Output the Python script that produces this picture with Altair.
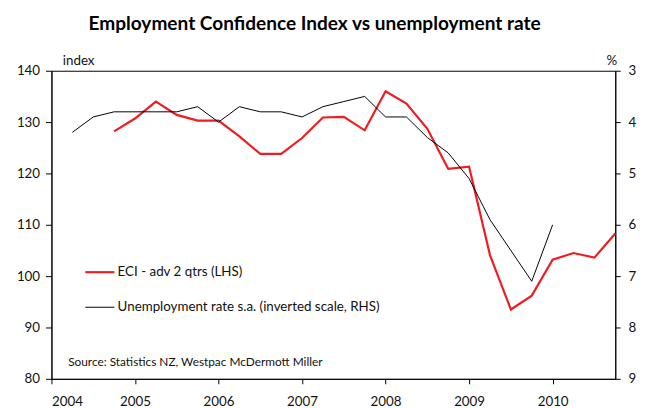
import altair as alt
import pandas as pd

TITLE = "Employment Confidence Index vs unemployment rate"
ECI_NAME = "ECI - adv 2 qtrs (LHS)"
UNEMP_NAME = "Unemployment rate s.a. (inverted scale, RHS)"
SOURCE = "Source:  Statistics NZ, Westpac McDermott Miller"

eci_x = [2004.75, 2005.0, 2005.25, 2005.5, 2005.75, 2006.0, 2006.25, 2006.5,
         2006.75, 2007.0, 2007.25, 2007.5, 2007.75, 2008.0, 2008.25, 2008.5,
         2008.75, 2009.0, 2009.25, 2009.5, 2009.75, 2010.0, 2010.25, 2010.5,
         2010.75]
eci_values = [128.2, 130.7, 134.0, 131.4, 130.3, 130.3, 127.2, 123.8,
              123.8, 126.9, 130.9, 131.0, 128.4, 136.0, 133.6, 128.7,
              120.9, 121.3, 104.1, 93.5, 96.2, 103.2, 104.5, 103.6,
              108.3]

unemp_x = [2004.25, 2004.5, 2004.75, 2005.0, 2005.25, 2005.5, 2005.75, 2006.0,
           2006.25, 2006.5, 2006.75, 2007.0, 2007.25, 2007.5, 2007.75, 2008.0,
           2008.25, 2008.5, 2008.75, 2009.0, 2009.25, 2009.5, 2009.75, 2010.0]
unemp_values = [4.2, 3.9, 3.8, 3.8, 3.8, 3.8, 3.7, 4.0,
                3.7, 3.8, 3.8, 3.9, 3.7, 3.6, 3.5, 3.9,
                3.9, 4.3, 4.6, 5.1, 5.9, 6.5, 7.1, 6.0]

year_ticks = [2004, 2005, 2006, 2007, 2008, 2009, 2010]
left_ticks = [80, 90, 100, 110, 120, 130, 140]
right_ticks = [3, 4, 5, 6, 7, 8, 9]

FONT = "Lato"

eci_df = pd.DataFrame({"x": eci_x, "value": eci_values, "series": ECI_NAME})
unemp_df = pd.DataFrame({"x": unemp_x, "value": unemp_values, "series": UNEMP_NAME})
source_df = pd.DataFrame({"x": [2004.2], "value": [83.2], "label": [SOURCE]})

x_enc = alt.X(
    "x:Q",
    scale=alt.Scale(domain=[2004, 2010.75], nice=False, zero=False),
    axis=alt.Axis(values=year_ticks, format="d", title=None, grid=False,
                  tickSize=5, labelPadding=11, labelFontSize=13.5),
)

left_scale = alt.Scale(domain=[80, 140], nice=False, zero=False)
left_axis = alt.Axis(values=left_ticks, title="index", titleAngle=0,
                     titleAlign="left", titleBaseline="middle", titleX=11, titleY=-10,
                     titleFontWeight="normal", titleFontSize=13.5, grid=False,
                     tickSize=6, labelPadding=6, labelFontSize=13.5)

series_scale = alt.Scale(domain=[ECI_NAME, UNEMP_NAME], range=["#ee1d23", "#000000"])
width_scale = alt.Scale(domain=[ECI_NAME, UNEMP_NAME], range=[2.2, 1.0])
legend = alt.Legend(title=None, orient="none", legendX=33, legendY=188,
                    symbolType="stroke", symbolSize=870, labelFontSize=13.5,
                    labelOffset=2, rowPadding=13, padding=0, labelLimit=400)

red = alt.Chart(eci_df).mark_line().encode(
    x=x_enc,
    y=alt.Y("value:Q", scale=left_scale, axis=left_axis),
    color=alt.Color("series:N", scale=series_scale, legend=legend),
    strokeWidth=alt.StrokeWidth("series:N", scale=width_scale, legend=legend),
)

source = alt.Chart(source_df).mark_text(
    align="left", baseline="middle", fontSize=12, font=FONT, color="#111111"
).encode(
    x=x_enc,
    y=alt.Y("value:Q", scale=left_scale, axis=left_axis),
    text="label:N",
)

black = alt.Chart(unemp_df).mark_line().encode(
    x=x_enc,
    y=alt.Y("value:Q",
            scale=alt.Scale(domain=[3, 9], reverse=True, nice=False, zero=False),
            axis=alt.Axis(orient="right", values=right_ticks, title="%", titleAngle=0,
                          titleAlign="center", titleBaseline="middle", titleX=-4, titleY=-10,
                          titleFontWeight="normal", titleFontSize=13.5, grid=False,
                          tickSize=5, labelPadding=8, labelFontSize=13.5)),
    color=alt.Color("series:N", scale=series_scale, legend=legend),
    strokeWidth=alt.StrokeWidth("series:N", scale=width_scale, legend=legend),
)

chart = alt.layer(alt.layer(red, source), black).resolve_scale(
    y="independent"
).properties(
    width=571,
    height=312,
    autosize=alt.AutoSizeParams(type="none"),
    padding={"left": 44, "top": 61, "right": 22, "bottom": 27},
    title=alt.Title(TITLE, fontSize=19.3, font=FONT, fontWeight="bold",
                    anchor="middle", dx=-19, offset=20, color="#000000"),
).configure_view(
    stroke="#000000", strokeWidth=1
).configure_axis(
    domainColor="#000000", tickColor="#000000", labelColor="#111111",
    titleColor="#111111", labelFont=FONT, titleFont=FONT, domainWidth=1, tickWidth=1,
).configure_legend(
    labelFont=FONT, labelColor="#111111"
)

chart.save("out.html", embed_options={"renderer": "svg", "actions": False})
